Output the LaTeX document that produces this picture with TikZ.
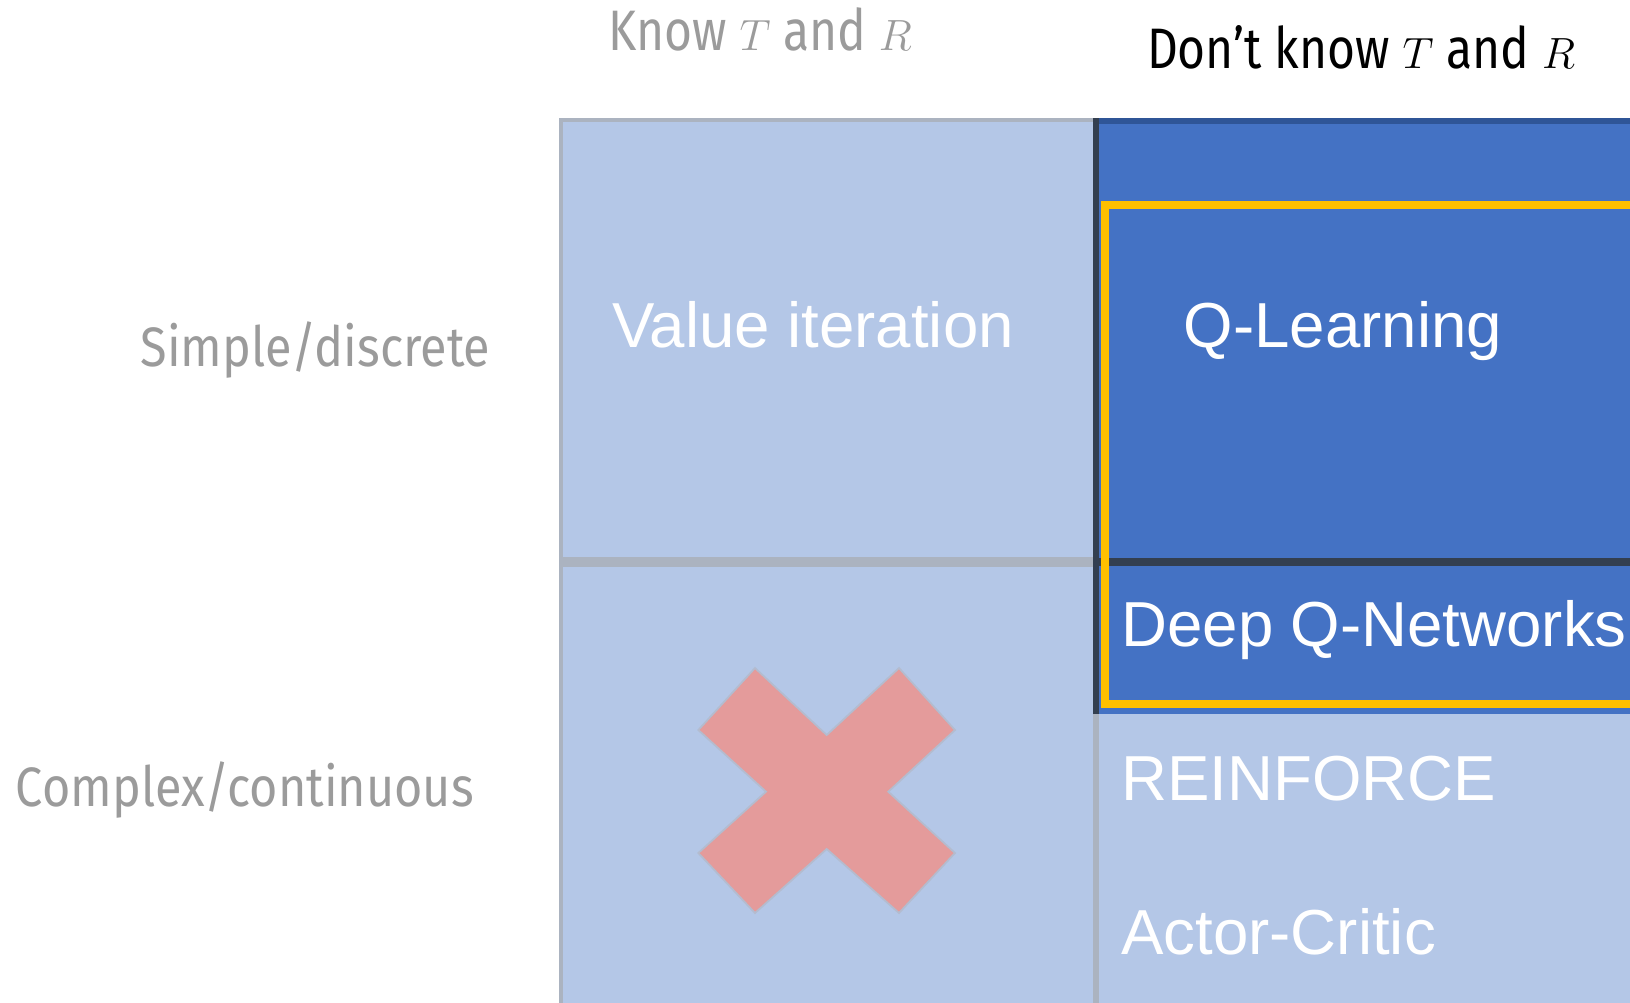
\documentclass[tikz,border=0pt]{standalone}
\usepackage{fontspec}
\setmainfont{Liberation Sans}
\newfontfamily\sidefont[FakeStretch=0.875]{Fira Sans}
\newfontfamily\headfont[FakeStretch=0.84]{Fira Sans}

\definecolor{lightcell}{HTML}{B4C7E7}
\definecolor{darkcell}{HTML}{4472C4}
\definecolor{darkedge}{HTML}{333F50}
\definecolor{topedge}{HTML}{2F5597}
\definecolor{cellgray}{HTML}{ABB3C0}
\definecolor{labelgray}{HTML}{9B9B9B}
\definecolor{highlight}{HTML}{FFC000}
\definecolor{crossred}{HTML}{E49B9B}
\definecolor{crossedge}{HTML}{B3BCCF}

\begin{document}
\begin{tikzpicture}[x=0.02cm, y=-0.02cm,
        celltext/.style={text=white, inner sep=0pt, font=\fontsize{36.2}{40}\selectfont},
        sidetext/.style={text=labelgray, inner sep=0pt, font=\sidefont\fontsize{31.6}{36}\selectfont},
        headtext/.style={inner sep=0pt, font=\headfont\fontsize{32.5}{36}\selectfont},
        ]

    \useasboundingbox [fill=white] (0, 0) rectangle (1630, 1002);

    % known model column
    \fill [lightcell] (559, 118) rectangle (1094, 1010);
    \draw [cellgray, line width=2.5pt] (561, 1010) -- (561, 120) -- (1094, 120);
    \draw [cellgray, line width=5.5pt] (561, 562) -- (1094, 562);

    % unknown model column
    \fill [lightcell] (1094, 714) rectangle (1640, 1010);
    \draw [cellgray, line width=3pt] (1096, 714) -- (1096, 1010);
    \fill [darkcell] (1094, 118) rectangle (1640, 714);
    \draw [topedge, line width=3pt] (1094, 121) -- (1640, 121);
    \draw [darkedge, line width=3.5pt] (1096, 118) -- (1096, 714);
    \draw [darkedge, line width=5pt] (1094, 562) -- (1640, 562);
    \draw [highlight, line width=4.5pt] (1105, 205) rectangle (1640, 704);

    % column and row headings
    \node (KnowTR) at (760, 50) [headtext, text=labelgray, anchor=base] {Know $T$ and $R$};
    \node (UnknownTR) at (1361, 68.6) [headtext, anchor=base] {Don’t know $T$ and $R$};
    \node (Simple) at (490.7, 366) [sidetext, anchor=base east] {Simple/discrete};
    \node (Complex) at (15.6, 806.7) [sidetext, anchor=base west] {Complex/continuous};

    % methods
    \node (VI) at (813, 347) [celltext, anchor=base] {Value iteration};
    \node (QL) at (1343, 347) [celltext, anchor=base] {Q-Learning};
    \node (DQN) at (1121, 646.6) [celltext, anchor=base west] {Deep Q-Networks};
    \node (RF) at (1121, 800.4) [celltext, anchor=base west] {REINFORCE};
    \node (AC) at (1121, 954) [celltext, anchor=base west] {Actor-Critic};

    % nothing works here
    \filldraw [fill=crossred, draw=crossedge, line width=1pt]
        (755, 668) -- (826.7, 735) -- (899, 668) -- (955, 730) -- (888.3, 791.7)
        -- (955, 853) -- (899, 913) -- (826.7, 849) -- (755, 913) -- (698.3, 853)
        -- (766, 791.7) -- (698.3, 730) -- cycle;
\end{tikzpicture}
\end{document}
